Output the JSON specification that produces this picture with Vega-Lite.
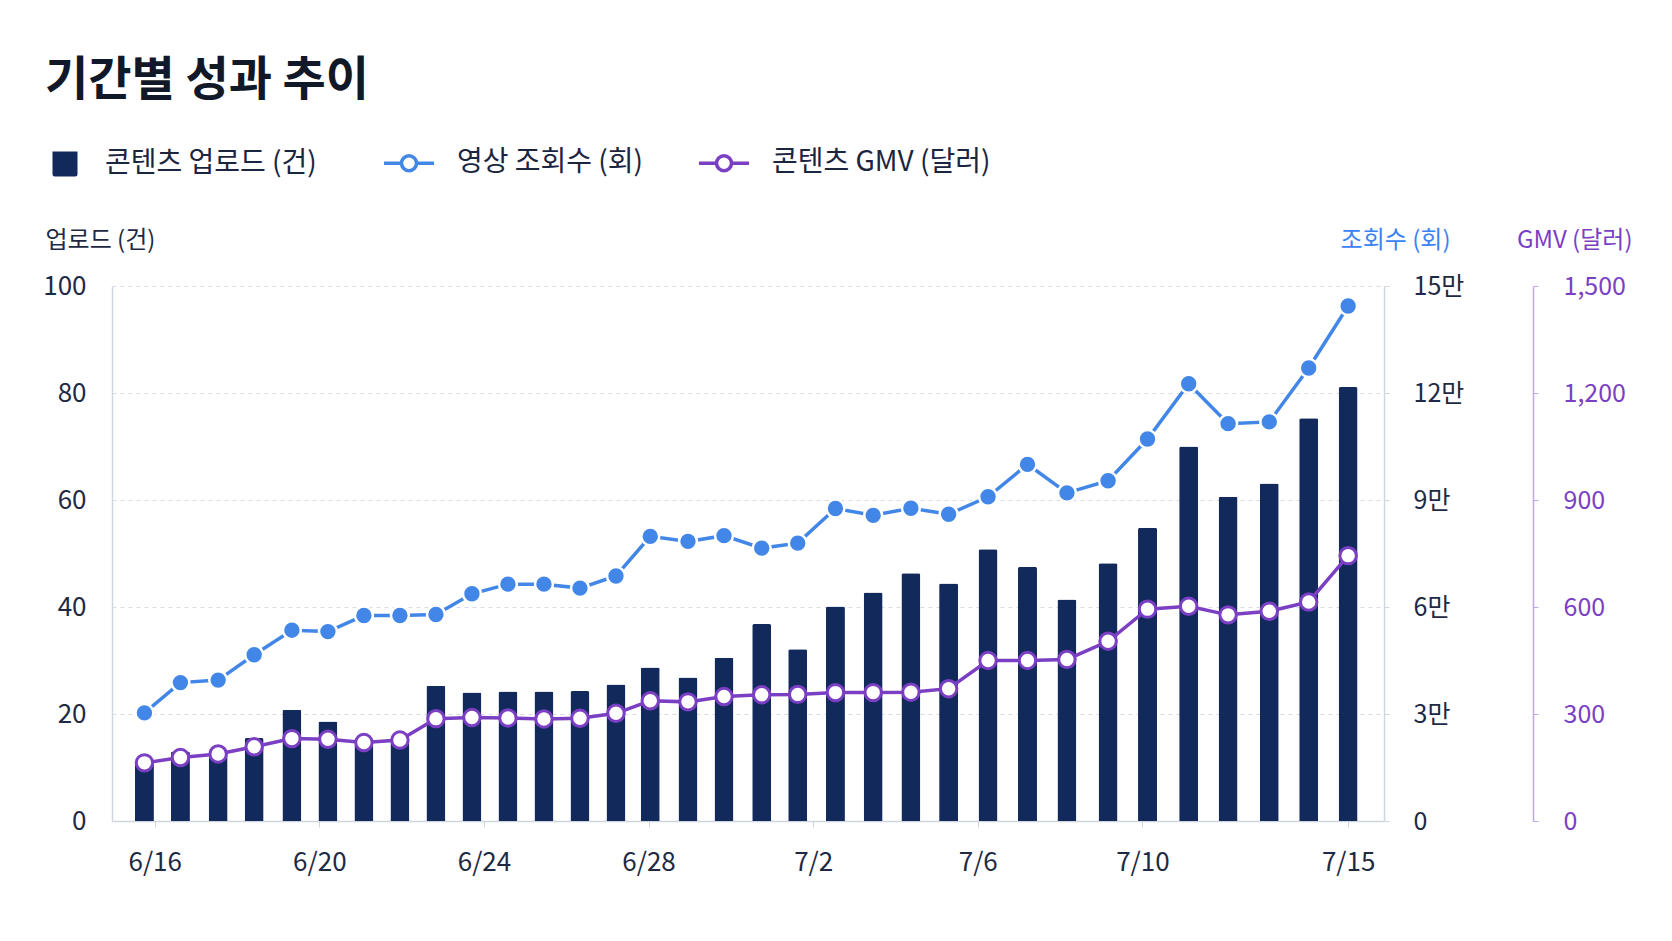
{
  "$schema": "https://vega.github.io/schema/vega-lite/v6.json",
  "width": 1272,
  "height": 535,
  "autosize": {"type": "none"},
  "padding": {"left": 112, "top": 286, "right": 288, "bottom": 120},
  "background": "#ffffff",
  "config": {"view": {"stroke": null}, "font": "Noto Sans CJK KR"},
  "title": {
    "text": "기간별 성과 추이",
    "anchor": "start",
    "frame": "group",
    "dx": -67,
    "offset": 31,
    "font": "Noto Sans CJK KR",
    "fontSize": 47,
    "fontWeight": "bold",
    "color": "#111827"
  },
  "data": {
    "values": [
      {"date": "2024-06-15T18:00:00", "uploads": 11, "views": 30300, "gmv": 163},
      {"date": "2024-06-16T15:00:00", "uploads": 13, "views": 38800, "gmv": 178},
      {"date": "2024-06-17T13:00:00", "uploads": 13, "views": 39500, "gmv": 188},
      {"date": "2024-06-18T10:00:00", "uploads": 15.5, "views": 46600, "gmv": 208},
      {"date": "2024-06-19T08:00:00", "uploads": 20.8, "views": 53500, "gmv": 231},
      {"date": "2024-06-20T05:00:00", "uploads": 18.6, "views": 53100, "gmv": 229},
      {"date": "2024-06-21T02:00:00", "uploads": 14.5, "views": 57600, "gmv": 220},
      {"date": "2024-06-21T23:00:00", "uploads": 15.5, "views": 57600, "gmv": 227},
      {"date": "2024-06-22T20:00:00", "uploads": 25.3, "views": 57900, "gmv": 287},
      {"date": "2024-06-23T17:00:00", "uploads": 24.0, "views": 63700, "gmv": 290},
      {"date": "2024-06-24T14:00:00", "uploads": 24.2, "views": 66400, "gmv": 289},
      {"date": "2024-06-25T11:00:00", "uploads": 24.2, "views": 66400, "gmv": 286},
      {"date": "2024-06-26T08:00:00", "uploads": 24.3, "views": 65300, "gmv": 288},
      {"date": "2024-06-27T05:00:00", "uploads": 25.5, "views": 68700, "gmv": 302},
      {"date": "2024-06-28T01:00:00", "uploads": 28.7, "views": 79800, "gmv": 337},
      {"date": "2024-06-28T23:00:00", "uploads": 26.8, "views": 78400, "gmv": 334},
      {"date": "2024-06-29T20:00:00", "uploads": 30.5, "views": 80000, "gmv": 349},
      {"date": "2024-06-30T18:00:00", "uploads": 36.8, "views": 76500, "gmv": 354},
      {"date": "2024-07-01T15:00:00", "uploads": 32.1, "views": 77900, "gmv": 355},
      {"date": "2024-07-02T13:00:00", "uploads": 40.1, "views": 87600, "gmv": 360},
      {"date": "2024-07-03T11:00:00", "uploads": 42.7, "views": 85700, "gmv": 360},
      {"date": "2024-07-04T09:00:00", "uploads": 46.3, "views": 87700, "gmv": 361},
      {"date": "2024-07-05T07:00:00", "uploads": 44.4, "views": 86000, "gmv": 371},
      {"date": "2024-07-06T06:00:00", "uploads": 50.8, "views": 90900, "gmv": 450},
      {"date": "2024-07-07T05:00:00", "uploads": 47.5, "views": 100000, "gmv": 450},
      {"date": "2024-07-08T04:00:00", "uploads": 41.4, "views": 92000, "gmv": 453},
      {"date": "2024-07-09T04:00:00", "uploads": 48.2, "views": 95400, "gmv": 504},
      {"date": "2024-07-10T03:00:00", "uploads": 54.8, "views": 107100, "gmv": 594},
      {"date": "2024-07-11T03:00:00", "uploads": 70.0, "views": 122600, "gmv": 602},
      {"date": "2024-07-12T02:00:00", "uploads": 60.6, "views": 111400, "gmv": 578},
      {"date": "2024-07-13T02:00:00", "uploads": 63.1, "views": 111900, "gmv": 588},
      {"date": "2024-07-14T01:00:00", "uploads": 75.3, "views": 127000, "gmv": 614},
      {"date": "2024-07-15T00:00:00", "uploads": 81.1, "views": 144400, "gmv": 744}
    ]
  },
  "encoding": {
    "x": {
      "field": "date",
      "type": "temporal",
      "scale": {
        "domain": [
          {"year": 2024, "month": 6, "date": 15, "hours": 2},
          {"year": 2024, "month": 7, "date": 15, "hours": 18}
        ]
      },
      "axis": {
        "title": null,
        "values": [
          {"year": 2024, "month": 6, "date": 16},
          {"year": 2024, "month": 6, "date": 20},
          {"year": 2024, "month": 6, "date": 24},
          {"year": 2024, "month": 6, "date": 28},
          {"year": 2024, "month": 7, "date": 2},
          {"year": 2024, "month": 7, "date": 6},
          {"year": 2024, "month": 7, "date": 10},
          {"year": 2024, "month": 7, "date": 15}
        ],
        "format": "%-m/%-d",
        "grid": false,
        "labelFontSize": 26,
        "labelColor": "#1e2a44",
        "labelPadding": 22,
        "labelFlush": false,
        "labelOverlap": false,
        "tickSize": 6,
        "tickColor": "#cfd5df",
        "domainColor": "#cfd5df",
        "domainWidth": 1.5
      }
    }
  },
  "layer": [
    {
      "mark": {"type": "bar", "width": 19, "cornerRadiusTopLeft": 2, "cornerRadiusTopRight": 2},
      "encoding": {
        "y": {
          "field": "uploads",
          "type": "quantitative",
          "scale": {"domain": [0, 100]},
          "axis": {
            "orient": "left",
            "values": [0, 20, 40, 60, 80, 100],
            "title": "업로드 (건)",
            "titleAngle": 0,
            "titleAlign": "left",
            "titleBaseline": "middle",
            "titleX": -67,
            "titleY": -46,
            "titleFontSize": 24,
            "titleFontWeight": "normal",
            "titleColor": "#1e2a44",
            "labelFontSize": 26,
            "labelColor": "#1e2a44",
            "labelPadding": 26,
            "ticks": false,
            "domainColor": "#cfd5df",
            "domainWidth": 1.5,
            "grid": true,
            "gridDash": [4, 4],
            "gridColor": "#d7dce5",
            "gridWidth": 1.2
          }
        },
        "fill": {
          "datum": "콘텐츠 업로드 (건)",
          "type": "nominal",
          "scale": {"domain": ["콘텐츠 업로드 (건)"], "range": ["#12295b"]},
          "legend": {
            "title": null,
            "orient": "none",
            "direction": "horizontal",
            "legendX": -61,
            "legendY": -136,
            "padding": 0,
            "symbolType": "M-1,-1H1V0.8Q1,1,0.8,1H-0.8Q-1,1,-1,0.8Z",
            "symbolSize": 625,
            "symbolStrokeWidth": 0,
            "labelFontSize": 28,
            "labelLimit": 500,
            "labelColor": "#1b2540",
            "labelOffset": 26
          }
        }
      }
    },
    {
      "encoding": {
        "y": {
          "field": "views",
          "type": "quantitative",
          "scale": {"domain": [0, 150000]},
          "axis": {
            "orient": "right",
            "values": [0, 30000, 60000, 90000, 120000, 150000],
            "labelExpr": "datum.value === 0 ? '0' : format(datum.value / 10000, 'd') + '만'",
            "title": "조회수 (회)",
            "titleAngle": 0,
            "titleAlign": "right",
            "titleBaseline": "middle",
            "titleX": 66,
            "titleY": -46,
            "titleFontSize": 24,
            "titleFontWeight": "normal",
            "titleColor": "#3b82f6",
            "labelFontSize": 25,
            "labelColor": "#1e2a44",
            "labelPadding": 24,
            "tickSize": 5,
            "tickColor": "#cfd5df",
            "domainColor": "#cfd5df",
            "domainWidth": 1.5,
            "grid": false
          }
        }
      },
      "layer": [
        {
          "mark": {"type": "line", "strokeWidth": 3.5},
          "encoding": {
            "stroke": {
              "datum": "영상 조회수 (회)",
              "type": "nominal",
              "scale": {"domain": ["영상 조회수 (회)", "콘텐츠 GMV (달러)"], "range": ["#4287e8", "#7b3fc4"]},
              "legend": {
                "title": null,
                "orient": "none",
                "direction": "horizontal",
                "legendX": 270,
                "legendY": -150,
                "padding": 0,
                "symbolType": "M-1,0H-0.3M0.3,0H1M0.3,0A0.3,0.3,0,1,1,-0.3,0A0.3,0.3,0,1,1,0.3,0Z",
                "symbolSize": 2500,
                "symbolFillColor": "#ffffff",
                "symbolStrokeWidth": 3.5,
                "symbolOpacity": 1,
                "labelFontSize": 28,
                "labelLimit": 500,
                "labelColor": "#1b2540",
                "labelOffset": 21,
                "columnPadding": 48
              }
            }
          }
        },
        {
          "mark": {"type": "point", "filled": true, "fill": "#4287e8", "stroke": "#ffffff", "strokeWidth": 2.5, "size": 320, "opacity": 1}
        }
      ]
    },
    {
      "encoding": {
        "y": {
          "field": "gmv",
          "type": "quantitative",
          "scale": {"domain": [0, 1500]},
          "axis": {
            "orient": "right",
            "offset": 149,
            "values": [0, 300, 600, 900, 1200, 1500],
            "format": ",.0f",
            "title": "GMV (달러)",
            "titleAngle": 0,
            "titleAlign": "right",
            "titleBaseline": "middle",
            "titleX": 99,
            "titleY": -46,
            "titleFontSize": 24,
            "titleFontWeight": "normal",
            "titleColor": "#7b3fc4",
            "labelFontSize": 25,
            "labelColor": "#7b3fc4",
            "labelPadding": 25,
            "tickSize": 5,
            "tickColor": "#c3a6ea",
            "domainColor": "#c3a6ea",
            "domainWidth": 1.5,
            "grid": false
          }
        }
      },
      "layer": [
        {
          "mark": {"type": "line", "strokeWidth": 3.5},
          "encoding": {"stroke": {"datum": "콘텐츠 GMV (달러)", "type": "nominal"}}
        },
        {
          "mark": {"type": "point", "filled": true, "fill": "#ffffff", "stroke": "#7b3fc4", "strokeWidth": 3, "size": 270, "opacity": 1}
        }
      ]
    }
  ],
  "resolve": {"scale": {"y": "independent"}}
}
